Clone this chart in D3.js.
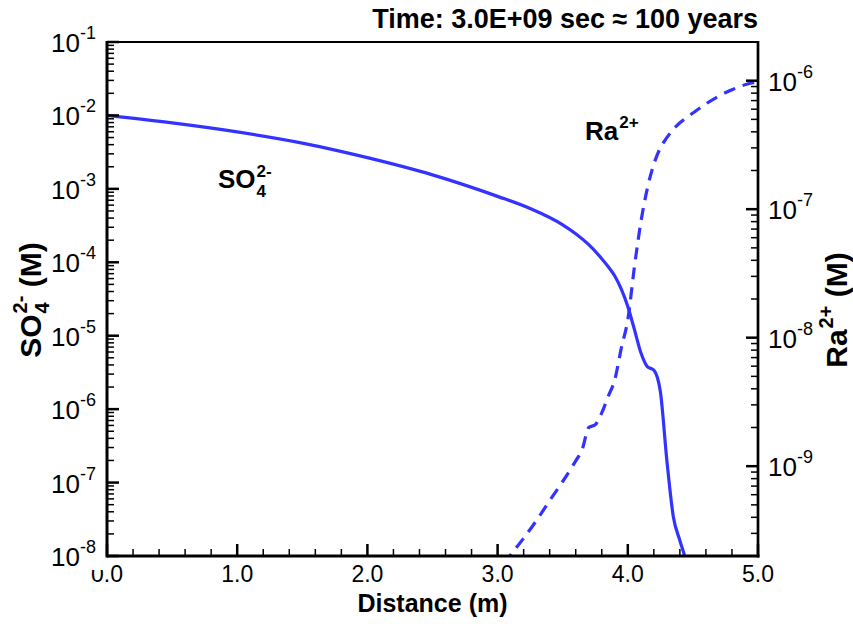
<!DOCTYPE html>
<html><head><meta charset="utf-8">
<script src="https://cdn.jsdelivr.net/npm/d3@7/dist/d3.min.js"></script>
<style>
html,body{margin:0;padding:0;background:#fff;}
svg{display:block;font-family:"Liberation Sans",Arial,sans-serif;}
</style></head>
<body>
<svg id="chart" width="853" height="624"></svg>
<script>
// ---------- data ----------
const distanceSO4 = [0.0,0.5,1.0,1.5,2.0,2.5,3.0,3.25,3.5,3.6,3.7,3.8,3.85,3.9,3.95,4.0,4.05,4.1,4.15,4.2,4.25,4.3,4.35,4.4,4.45,4.5];
const so4Values   = [1.0e-2,7.9e-3,5.96e-3,4.2e-3,2.66e-3,1.55e-3,7.9e-4,5.4e-4,3.24e-4,2.45e-4,1.74e-4,1.12e-4,8.7e-5,6.5e-5,4.3e-5,2.5e-5,1.23e-5,5.9e-6,3.8e-6,3.4e-6,1.74e-6,2.0e-7,3.4e-8,1.62e-8,7.9e-9,2.0e-9];

const distanceRa = [3.05,3.1,3.2,3.3,3.4,3.5,3.6,3.65,3.7,3.75,3.8,3.85,3.9,3.95,4.0,4.05,4.1,4.15,4.2,4.25,4.3,4.35,4.4,4.5,4.6,4.7,4.8,4.9,5.0];
const raValues   = [1.74e-10,2.04e-10,2.75e-10,3.8e-10,5.4e-10,7.6e-10,1.10e-9,1.35e-9,2.0e-9,2.1e-9,2.6e-9,3.5e-9,4.7e-9,8.3e-9,1.38e-8,3.5e-8,7.9e-8,1.45e-7,2.24e-7,3.0e-7,3.6e-7,4.2e-7,4.7e-7,5.6e-7,6.6e-7,7.6e-7,8.5e-7,9.3e-7,9.8e-7];

const xTickValues = [0,1,2,3,4,5];
const xTickLabels = ["0.0","1.0","2.0","3.0","4.0","5.0"];
const leftTickExponents  = [-1,-2,-3,-4,-5,-6,-7,-8];
const rightTickExponents = [-6,-7,-8,-9];
const titleText = "Time: 3.0E+09 sec \u2248 100 years";

// ---------- layout ----------
const L = 107, R = 758, T = 42, B = 556;
const blue = "#3333ff";
const svg = d3.select("#chart");

const x = d3.scaleLinear().domain([0,5]).range([L,R]);
const yL = d3.scaleLog().domain([1e-8,1e-1]).range([B,T]);
const yR = d3.scaleLog().domain([2e-10,2e-6]).range([B,T]);

svg.append("defs").append("clipPath").attr("id","plotclip")
  .append("rect").attr("x",L).attr("y",T).attr("width",R-L).attr("height",B-T);

// ---------- lines ----------
const so4Data = distanceSO4.map((d,i)=>[d,so4Values[i]]);
const raData  = distanceRa.map((d,i)=>[d,raValues[i]]);

const lineL = d3.line().x(d=>x(d[0])).y(d=>yL(d[1])).curve(d3.curveMonotoneX);
const lineR = d3.line().x(d=>x(d[0])).y(d=>yR(d[1])).curve(d3.curveMonotoneX);

const gLines = svg.append("g").attr("clip-path","url(#plotclip)");
gLines.append("path").attr("d",lineL(so4Data)).attr("fill","none")
  .attr("stroke",blue).attr("stroke-width",3.2).attr("stroke-linejoin","round");
gLines.append("path").attr("d",lineR(raData)).attr("fill","none")
  .attr("stroke",blue).attr("stroke-width",3.2).attr("stroke-dasharray","12,8");

// ---------- axes ----------
function minorTicks(scale){
  const [a,b] = scale.domain();
  const out = [];
  for (let e=Math.floor(Math.log10(a)); e<=Math.ceil(Math.log10(b)); e++){
    for (let k=2;k<=9;k++){ const v=k*Math.pow(10,e); if (v>=a*0.999 && v<=b*1.001) out.push(v); }
  }
  return out;
}
const MAJ = 12, MIN = 7;

const xMinor = d3.range(0,5.0001,0.2).filter(v=>Math.abs(v-Math.round(v))>1e-6);
const gX = svg.append("g");
gX.selectAll("line.min").data(xMinor).join("line")
  .attr("x1",d=>x(d)).attr("x2",d=>x(d)).attr("y1",B).attr("y2",B-MIN)
  .attr("stroke","#000").attr("stroke-width",1.5);
gX.selectAll("line.maj").data(xTickValues).join("line")
  .attr("x1",d=>x(d)).attr("x2",d=>x(d)).attr("y1",B).attr("y2",B-MAJ)
  .attr("stroke","#000").attr("stroke-width",2.5);
gX.selectAll("text").data(xTickValues).join("text")
  .attr("x",d=>x(d)).attr("y",B+26).attr("text-anchor","middle")
  .attr("font-size",23).text((d,i)=>xTickLabels[i]);

const gY = svg.append("g");
gY.selectAll("line.min").data(minorTicks(yL)).join("line")
  .attr("x1",L).attr("x2",L+MIN).attr("y1",d=>yL(d)).attr("y2",d=>yL(d))
  .attr("stroke","#000").attr("stroke-width",1.5);
gY.selectAll("line.maj").data(leftTickExponents).join("line")
  .attr("x1",L).attr("x2",L+MAJ).attr("y1",d=>yL(Math.pow(10,d))).attr("y2",d=>yL(Math.pow(10,d)))
  .attr("stroke","#000").attr("stroke-width",2.5);

const gY2 = svg.append("g");
gY2.selectAll("line.min").data(minorTicks(yR)).join("line")
  .attr("x1",R).attr("x2",R-MIN).attr("y1",d=>yR(d)).attr("y2",d=>yR(d))
  .attr("stroke","#000").attr("stroke-width",1.5);
gY2.selectAll("line.maj").data(rightTickExponents).join("line")
  .attr("x1",R).attr("x2",R-MAJ).attr("y1",d=>yR(Math.pow(10,d))).attr("y2",d=>yR(Math.pow(10,d)))
  .attr("stroke","#000").attr("stroke-width",2.5);

// frame
svg.append("line").attr("x1",L).attr("x2",R).attr("y1",T).attr("y2",T).attr("stroke","#000").attr("stroke-width",2.2);
svg.append("line").attr("x1",L).attr("x2",R+1.5).attr("y1",B).attr("y2",B).attr("stroke","#000").attr("stroke-width",3);
svg.append("line").attr("x1",L).attr("x2",L).attr("y1",T-1).attr("y2",B+1.5).attr("stroke","#000").attr("stroke-width",3);
svg.append("line").attr("x1",R).attr("x2",R).attr("y1",T-1).attr("y2",B+1.5).attr("stroke","#000").attr("stroke-width",2.7);

function powLabel(g, xPos, yPos, exp, anchor){
  const t = g.append("text").attr("x",xPos).attr("y",yPos+10).attr("text-anchor",anchor).attr("font-size",26);
  t.append("tspan").text("10");
  t.append("tspan").attr("dy",-13).attr("font-size",18).text(String(exp));
  return t;
}
leftTickExponents.forEach(e=>{
  const yy = yL(Math.pow(10,e));
  const grp = gY.append("g");
  const bg = grp.append("rect").attr("fill","#fff");
  const t = powLabel(grp, 96, yy, e, "end");
  const bb = t.node().getBBox();
  bg.attr("x",bb.x).attr("y",bb.y).attr("width",bb.width+8).attr("height",(yy+14)-bb.y);
});
rightTickExponents.forEach(e=>{
  powLabel(gY2, 768, yR(Math.pow(10,e)), e, "start");
});

// ---------- chemical labels ----------
function chem(g, o){
  const grp = g.append("g");
  const fs = o.size, ss = o.subSize;
  const base = grp.append("text").attr("font-weight","bold").attr("font-size",fs).text(o.base);
  let w = base.node().getComputedTextLength();
  let extra = 0;
  if (o.sub){
    const s = grp.append("text").attr("x",w+1).attr("y",o.subDy).attr("font-weight","bold").attr("font-size",ss).text(o.sub);
    extra = Math.max(extra, s.node().getComputedTextLength()+1);
  }
  if (o.sup){
    const s = grp.append("text").attr("x",w+1).attr("y",o.supDy).attr("font-weight","bold").attr("font-size",ss).text(o.sup);
    extra = Math.max(extra, s.node().getComputedTextLength()+1);
  }
  w += extra;
  if (o.tail){
    const gap = fs*0.28;
    const t = grp.append("text").attr("x",w+gap).attr("font-weight","bold").attr("font-size",fs).text(o.tail);
    w += gap + t.node().getComputedTextLength();
  }
  const shift = o.anchor==="middle" ? -w/2 : (o.anchor==="end" ? -w : 0);
  grp.attr("transform",`translate(${shift},0)`);
  return grp;
}

chem(svg.append("g").attr("transform","translate(218,188)"),
  {base:"SO", sub:"4", sup:"2-", size:26, subSize:17, subDy:9, supDy:-11, anchor:"start"});
chem(svg.append("g").attr("transform","translate(585,140)"),
  {base:"Ra", sup:"2+", size:26, subSize:17, supDy:-12, anchor:"start"});

chem(svg.append("g").attr("transform","translate(41,300) rotate(-90)"),
  {base:"SO", sub:"4", sup:"2-", tail:"(M)", size:30, subSize:20, subDy:8, supDy:-14, anchor:"middle"});
chem(svg.append("g").attr("transform","translate(847,310) rotate(-90)"),
  {base:"Ra", sup:"2+", tail:"(M)", size:30, subSize:20, supDy:-14, anchor:"middle"});

svg.append("text").attr("x",(L+R)/2).attr("y",612).attr("text-anchor","middle")
  .attr("font-weight","bold").attr("font-size",25).text("Distance (m)");

svg.append("text").attr("x",R).attr("y",28).attr("text-anchor","end")
  .attr("font-weight","bold").attr("font-size",27).text(titleText);
</script>
</body></html>
